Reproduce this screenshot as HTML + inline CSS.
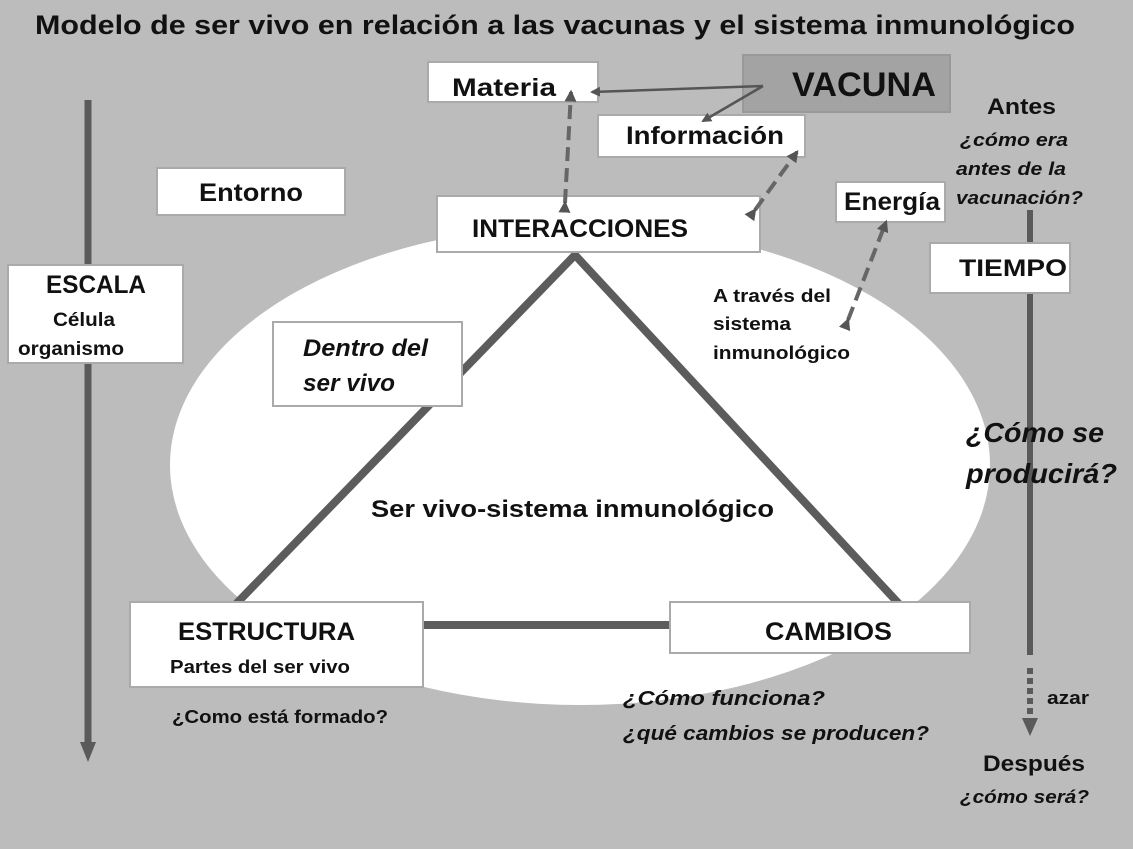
<!DOCTYPE html>
<html><head><meta charset="utf-8"><style>
html,body{margin:0;padding:0;background:#bcbcbc;}
svg{display:block;font-family:"Liberation Sans",sans-serif;font-weight:bold;}
</style></head><body>
<svg width="1133" height="849" viewBox="0 0 1133 849" xmlns="http://www.w3.org/2000/svg">
<defs>
<marker id="ah" viewBox="0 0 10 10" refX="8" refY="5" markerWidth="3" markerHeight="3" orient="auto"><path d="M0,0 L10,5 L0,10 z" fill="#555"/></marker>
<marker id="as" viewBox="0 0 10 10" refX="8" refY="5" markerWidth="4" markerHeight="4" orient="auto"><path d="M0,0 L10,5 L0,10 z" fill="#555"/></marker>
</defs>
<rect width="1133" height="849" fill="#bcbcbc"/>
<ellipse cx="580" cy="465" rx="410" ry="240" fill="#fff"/>
<line x1="88" y1="100" x2="88" y2="745" stroke="#5a5a5a" stroke-width="7"/>
<path d="M80,742 L96,742 L88,762 z" fill="#5a5a5a"/>
<line x1="1030" y1="210" x2="1030" y2="655" stroke="#5a5a5a" stroke-width="6"/>
<line x1="1030" y1="668" x2="1030" y2="718" stroke="#5a5a5a" stroke-width="6" stroke-dasharray="6,4"/>
<path d="M1022,718 L1038,718 L1030,736 z" fill="#5a5a5a"/>
<polyline points="235,605 575,255 900,605" fill="none" stroke="#5c5c5c" stroke-width="8"/>
<line x1="420" y1="625" x2="672" y2="625" stroke="#5c5c5c" stroke-width="8"/>
<rect x="743" y="55" width="207" height="57" fill="#a3a3a3" stroke="#999" stroke-width="2"/>
<g fill="#fff" stroke="#aaa" stroke-width="2">
<rect x="428" y="62" width="170" height="40"/>
<rect x="598" y="115" width="207" height="42"/>
<rect x="157" y="168" width="188" height="47"/>
<rect x="437" y="196" width="323" height="56"/>
<rect x="836" y="182" width="109" height="40"/>
<rect x="930" y="243" width="140" height="50"/>
<rect x="8" y="265" width="175" height="98"/>
<rect x="273" y="322" width="189" height="84"/>
<rect x="130" y="602" width="293" height="85"/>
<rect x="670" y="602" width="300" height="51"/>
</g>
<line x1="763" y1="86" x2="592" y2="92" stroke="#555" stroke-width="2.5" marker-end="url(#as)"/>
<line x1="763" y1="86" x2="703" y2="121" stroke="#555" stroke-width="2.5" marker-end="url(#as)"/>
<line x1="565" y1="203" x2="571" y2="92" stroke="#666" stroke-width="4" stroke-dasharray="14,7" marker-end="url(#ah)" marker-start="url(#ah)"/>
<line x1="755" y1="210" x2="797" y2="152" stroke="#666" stroke-width="4" stroke-dasharray="14,7" marker-end="url(#ah)" marker-start="url(#ah)"/>
<line x1="848" y1="320" x2="886" y2="222" stroke="#666" stroke-width="4" stroke-dasharray="14,7" marker-end="url(#ah)" marker-start="url(#ah)"/>
<g fill="#111">
<text x="35" y="34" font-size="27" textLength="1040" lengthAdjust="spacingAndGlyphs">Modelo de ser vivo en relación a las vacunas y el sistema inmunológico</text>
<text x="452" y="96" font-size="25" textLength="104" lengthAdjust="spacingAndGlyphs">Materia</text>
<text x="792" y="96" font-size="34" textLength="144" lengthAdjust="spacingAndGlyphs">VACUNA</text>
<text x="626" y="144" font-size="25" textLength="158" lengthAdjust="spacingAndGlyphs">Información</text>
<text x="199" y="201" font-size="25" textLength="104" lengthAdjust="spacingAndGlyphs">Entorno</text>
<text x="472" y="237" font-size="25" textLength="216" lengthAdjust="spacingAndGlyphs">INTERACCIONES</text>
<text x="844" y="210" font-size="25" textLength="96" lengthAdjust="spacingAndGlyphs">Energía</text>
<text x="959" y="276" font-size="24" textLength="108" lengthAdjust="spacingAndGlyphs">TIEMPO</text>
<text x="46" y="293" font-size="25" textLength="100" lengthAdjust="spacingAndGlyphs">ESCALA</text>
<text x="53" y="326" font-size="19" textLength="62" lengthAdjust="spacingAndGlyphs">Célula</text>
<text x="18" y="355" font-size="19" textLength="106" lengthAdjust="spacingAndGlyphs">organismo</text>
<text x="303" y="356" font-size="24" font-style="italic" textLength="125" lengthAdjust="spacingAndGlyphs">Dentro del</text>
<text x="303" y="391" font-size="24" font-style="italic" textLength="92" lengthAdjust="spacingAndGlyphs">ser vivo</text>
<text x="713" y="302" font-size="18" textLength="118" lengthAdjust="spacingAndGlyphs">A través del</text>
<text x="713" y="330" font-size="18" textLength="78" lengthAdjust="spacingAndGlyphs">sistema</text>
<text x="713" y="359" font-size="18" textLength="137" lengthAdjust="spacingAndGlyphs">inmunológico</text>
<text x="371" y="517" font-size="24" textLength="403" lengthAdjust="spacingAndGlyphs">Ser vivo-sistema inmunológico</text>
<text x="178" y="640" font-size="25" textLength="177" lengthAdjust="spacingAndGlyphs">ESTRUCTURA</text>
<text x="170" y="673" font-size="18" textLength="180" lengthAdjust="spacingAndGlyphs">Partes del ser vivo</text>
<text x="765" y="640" font-size="25" textLength="127" lengthAdjust="spacingAndGlyphs">CAMBIOS</text>
<text x="172" y="723" font-size="18" textLength="216" lengthAdjust="spacingAndGlyphs">¿Como está formado?</text>
<text x="987" y="114" font-size="22" textLength="69" lengthAdjust="spacingAndGlyphs">Antes</text>
<text x="960" y="146" font-size="18" font-style="italic" textLength="108" lengthAdjust="spacingAndGlyphs">¿cómo era</text>
<text x="956" y="175" font-size="18" font-style="italic" textLength="110" lengthAdjust="spacingAndGlyphs">antes de la</text>
<text x="956" y="204" font-size="18" font-style="italic" textLength="127" lengthAdjust="spacingAndGlyphs">vacunación?</text>
<text x="966" y="442" font-size="28" font-style="italic" textLength="138" lengthAdjust="spacingAndGlyphs">¿Cómo se</text>
<text x="966" y="483" font-size="28" font-style="italic" textLength="151" lengthAdjust="spacingAndGlyphs">producirá?</text>
<text x="623" y="705" font-size="20" font-style="italic" textLength="202" lengthAdjust="spacingAndGlyphs">¿Cómo funciona?</text>
<text x="623" y="740" font-size="20" font-style="italic" textLength="306" lengthAdjust="spacingAndGlyphs">¿qué cambios se producen?</text>
<text x="960" y="803" font-size="18" font-style="italic" textLength="129" lengthAdjust="spacingAndGlyphs">¿cómo será?</text>
<text x="1047" y="704" font-size="18" textLength="42" lengthAdjust="spacingAndGlyphs">azar</text>
<text x="983" y="771" font-size="22" textLength="102" lengthAdjust="spacingAndGlyphs">Después</text>
</g>
</svg>
</body></html>
